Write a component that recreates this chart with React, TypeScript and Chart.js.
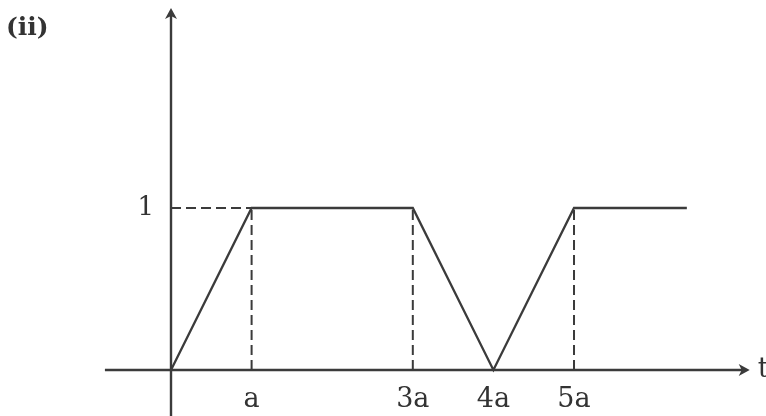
import React, { useEffect, useRef } from "react";
import { Chart, registerables } from "chart.js";

Chart.register(...registerables);

// Signal f(t): piecewise-linear trapezoidal waveform (t in units of a)
const tValues = [0, 1, 3, 4, 5, 6.4];
const fValues = [0, 1, 1, 0, 1, 1];

// Tick labels
const xTickValues = [1, 3, 4, 5];
const xTickLabels = ["a", "3a", "4a", "5a"];
const yTickValues = [1];
const yTickLabels = ["1"];

// Dashed guide lines
const dropLineX = [1, 3, 5];
const levelLineX = [0, 1];

const panelLabel = "(ii)";
const xAxisLabel = "t";

const INK = "#3b3b3b";
const TEXT = "#333333";
const FONT = '"DejaVu Serif", "Liberation Serif", serif';

const axesPlugin = {
  id: "axesPlugin",
  beforeDatasetsDraw(chart: any) {
    const { ctx, scales } = chart;
    const xs = scales.x;
    const ys = scales.y;
    const x0 = xs.getPixelForValue(0);
    const y0 = ys.getPixelForValue(0);
    ctx.save();
    ctx.strokeStyle = INK;
    ctx.fillStyle = INK;
    ctx.lineWidth = 2.4;
    // x axis
    const xStart = xs.getPixelForValue(-0.82);
    const xTip = xs.getPixelForValue(7.18);
    ctx.beginPath();
    ctx.moveTo(xStart, y0);
    ctx.lineTo(xTip - 6, y0);
    ctx.stroke();
    ctx.beginPath();
    ctx.moveTo(xTip, y0);
    ctx.lineTo(xTip - 11, y0 - 6);
    ctx.lineTo(xTip - 8, y0);
    ctx.lineTo(xTip - 11, y0 + 6);
    ctx.closePath();
    ctx.fill();
    // y axis
    const yBottom = ys.getPixelForValue(ys.min);
    const yTip = ys.getPixelForValue(2.235);
    ctx.beginPath();
    ctx.moveTo(x0, yBottom);
    ctx.lineTo(x0, yTip + 6);
    ctx.stroke();
    ctx.beginPath();
    ctx.moveTo(x0, yTip);
    ctx.lineTo(x0 - 6, yTip + 11);
    ctx.lineTo(x0, yTip + 8);
    ctx.lineTo(x0 + 6, yTip + 11);
    ctx.closePath();
    ctx.fill();
    ctx.restore();
  },
  afterDraw(chart: any) {
    const { ctx, scales } = chart;
    const xs = scales.x;
    const ys = scales.y;
    const x0 = xs.getPixelForValue(0);
    const y0 = ys.getPixelForValue(0);
    ctx.save();
    ctx.fillStyle = TEXT;
    ctx.textBaseline = "middle";
    ctx.font = `27px ${FONT}`;
    ctx.textAlign = "center";
    xTickValues.forEach((v, i) => {
      ctx.fillText(xTickLabels[i], xs.getPixelForValue(v), y0 + 30);
    });
    ctx.textAlign = "right";
    ctx.font = `26px ${FONT}`;
    yTickValues.forEach((v, i) => {
      ctx.fillText(yTickLabels[i], x0 - 17, ys.getPixelForValue(v));
    });
    ctx.textAlign = "left";
    ctx.font = `27px ${FONT}`;
    ctx.fillText(xAxisLabel, xs.getPixelForValue(7.28), y0);
    ctx.font = `bold 25px ${FONT}`;
    ctx.fillText(panelLabel, 6, 28);
    ctx.restore();
  },
};

export default function App() {
  const ref = useRef<HTMLCanvasElement | null>(null);
  useEffect(() => {
    if (!ref.current) return;
    const dashStyle = {
      borderColor: INK,
      borderWidth: 2,
      borderDash: [10, 5],
      pointRadius: 0,
      fill: false,
      tension: 0,
    };
    const datasets: any[] = [
      {
        data: tValues.map((t, i) => ({ x: t, y: fValues[i] })),
        borderColor: INK,
        borderWidth: 2.3,
        pointRadius: 0,
        fill: false,
        tension: 0,
      },
      {
        ...dashStyle,
        data: levelLineX.map((x) => ({ x, y: 1 })),
      },
      ...dropLineX.map((x) => ({
        ...dashStyle,
        data: [
          { x, y: 0 },
          { x, y: 1 },
        ],
      })),
    ];
    const chart = new Chart(ref.current, {
      type: "line",
      data: { datasets },
      options: {
        animation: false,
        responsive: false,
        maintainAspectRatio: false,
        layout: { padding: 0 },
        plugins: {
          legend: { display: false },
          tooltip: { enabled: false },
        },
        scales: {
          x: { type: "linear", display: false, min: -2.1216, max: 7.382 },
          y: { type: "linear", display: false, min: -0.284, max: 2.284 },
        },
      },
      plugins: [axesPlugin],
    });
    return () => chart.destroy();
  }, []);
  return (
    <div style={{ position: "absolute", left: 0, top: 0, width: 766, height: 416, background: "#ffffff" }}>
      <canvas ref={ref} width={766} height={416} style={{ width: 766, height: 416 }} />
    </div>
  );
}
